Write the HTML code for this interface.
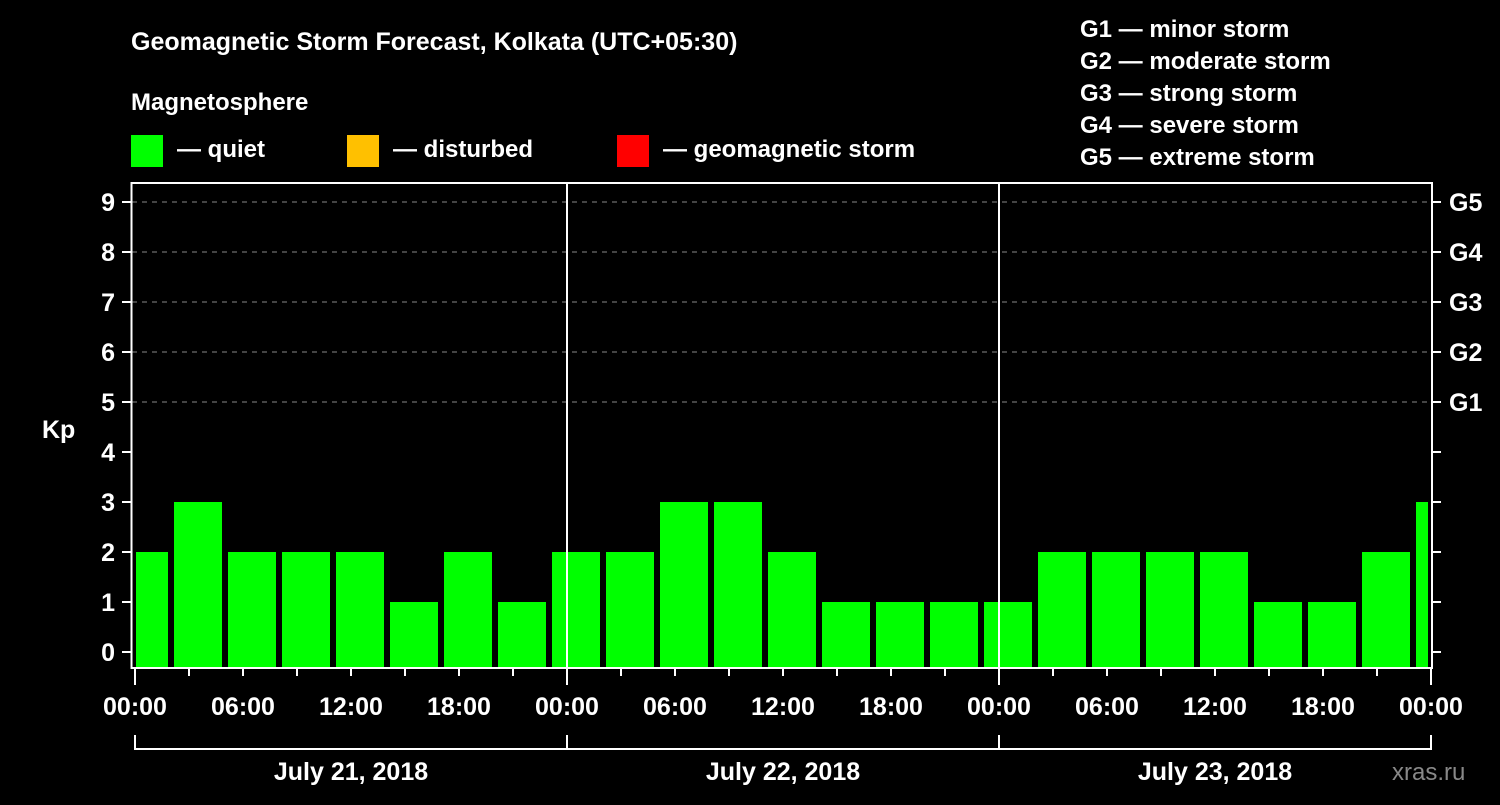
<!DOCTYPE html>
<html><head><meta charset="utf-8"><style>
body{margin:0;background:#000;width:1500px;height:800px;overflow:hidden}
svg text{font-family:"Liberation Sans",Arial,sans-serif;font-weight:bold;fill:#fff}
</style></head><body>
<svg id="c" width="1500" height="800" xmlns="http://www.w3.org/2000/svg">
<text x="131" y="50" font-size="25">Geomagnetic Storm Forecast, Kolkata (UTC+05:30)</text>
<text x="131" y="110" font-size="24">Magnetosphere</text>
<g><rect x="131" y="135" width="32" height="32" fill="#00ff00"/><text x="177" y="157" font-size="24">— quiet</text></g>
<g><rect x="347" y="135" width="32" height="32" fill="#ffc000"/><text x="393" y="157" font-size="24">— disturbed</text></g>
<g><rect x="617" y="135" width="32" height="32" fill="#ff0000"/><text x="663" y="157" font-size="24">— geomagnetic storm</text></g>
<g font-size="24">
<text x="1080" y="37">G1 — minor storm</text>
<text x="1080" y="69">G2 — moderate storm</text>
<text x="1080" y="101">G3 — strong storm</text>
<text x="1080" y="133">G4 — severe storm</text>
<text x="1080" y="165">G5 — extreme storm</text>
</g>
<text x="42" y="438" font-size="25">Kp</text>
<text x="1392" y="780" font-size="24" fill="#888" style="fill:#888;font-weight:normal">xras.ru</text>
<defs><clipPath id="pc"><rect x="136" y="183" width="1292" height="485"/></clipPath></defs>
<g id="grid"></g><g id="bars" clip-path="url(#pc)"></g><g id="axes"></g>
</svg>
<script>
const kpValues=[2,3,2,2,2,1,2,1,2,2,3,3,2,1,1,1,1,2,2,2,2,1,1,2,3];
const yTicks=[0,1,2,3,4,5,6,7,8,9];
const gLabels=["G1","G2","G3","G4","G5"];
const timeLabels=["00:00","06:00","12:00","18:00"];
const dayLabels=["July 21, 2018","July 22, 2018","July 23, 2018"];
const NS="http://www.w3.org/2000/svg";
const X0=135,PXH=18,Y0=652,PXK=50,TOP=183,BOT=668,RIGHT=1431;
const xs=h=>X0+h*PXH, ys=v=>Y0-v*PXK;
function mk(p,t,a){const e=document.createElementNS(NS,t);for(const k in a)e.setAttribute(k,a[k]);p.appendChild(e);return e;}
const grid=document.getElementById('grid'),bars=document.getElementById('bars'),axes=document.getElementById('axes');
// bars: 3-hour slots starting at -1h local
kpValues.forEach((v,i)=>{const s=-1+3*i;const x1=xs(s)+3,x2=xs(s+3)-3;
const col=v>=5?'#ff0000':(v>=4?'#ffc000':'#00ff00');
const r=mk(bars,'rect',{x:x1,y:ys(v),width:x2-x1,height:BOT-1-ys(v),fill:col});

});
yTicks.forEach(v=>{const y=ys(v);
if(v>=5){const l=mk(grid,'line',{x1:132,x2:RIGHT,y1:y,y2:y,stroke:'#888','stroke-width':1,'stroke-dasharray':'5,5'});

}
mk(axes,'line',{x1:122,x2:131,y1:y,y2:y,stroke:'#fff','stroke-width':2});
mk(axes,'line',{x1:1432,x2:1441,y1:y,y2:y,stroke:'#fff','stroke-width':2});
const t=mk(axes,'text',{x:115,y:y+9,'text-anchor':'end','font-size':25});t.textContent=v;


if(v>=5){const g=mk(axes,'text',{x:1449,y:y+9,'font-size':25});g.textContent=gLabels[v-5];

}});
mk(axes,'rect',{x:131.5,y:TOP,width:RIGHT+1-131.5,height:BOT-TOP,fill:'none',stroke:'#fff','stroke-width':2});
for(let d=1;d<3;d++)mk(axes,'line',{x1:xs(24*d),x2:xs(24*d),y1:TOP,y2:BOT,stroke:'#fff','stroke-width':2});
for(let h=0;h<=72;h+=3){const x=xs(h);mk(axes,'line',{x1:x,x2:x,y1:BOT+1,y2:h%24==0?685:676,stroke:'#fff','stroke-width':2});
if(h%6==0){const t=mk(axes,'text',{x:x,y:715,'text-anchor':'middle','font-size':25});t.textContent=h==72?timeLabels[0]:timeLabels[(h%24)/6];

}}
mk(axes,'line',{x1:xs(0),x2:xs(72),y1:749,y2:749,stroke:'#fff','stroke-width':2});
for(let d=0;d<=3;d++)mk(axes,'line',{x1:xs(24*d),x2:xs(24*d),y1:735,y2:750,stroke:'#fff','stroke-width':2});
dayLabels.forEach((s,d)=>{const t=mk(axes,'text',{x:xs(24*d+12),y:780,'text-anchor':'middle','font-size':25});t.textContent=s;

});
</script>
</body></html>
